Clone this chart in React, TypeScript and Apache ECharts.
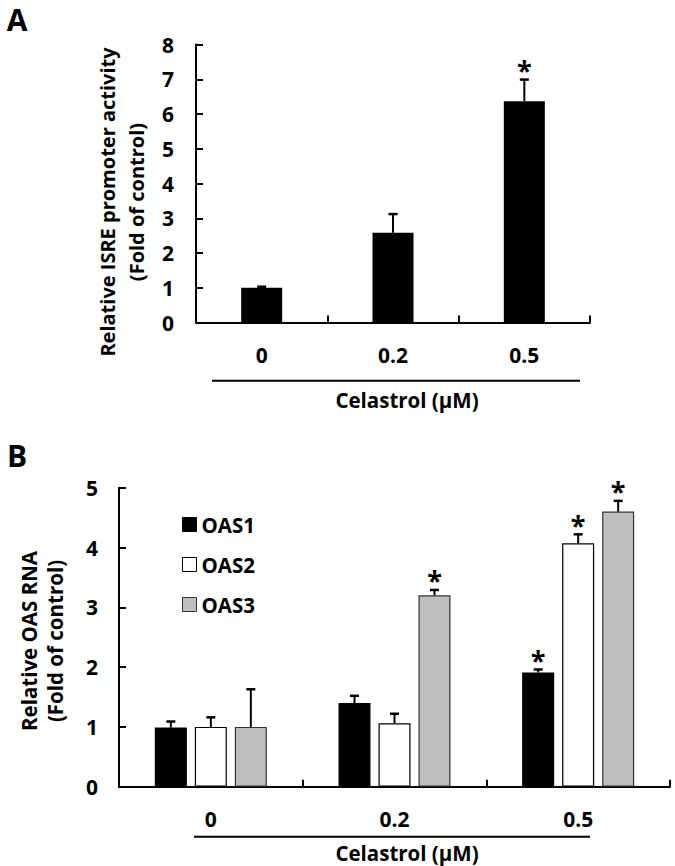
import React, { useEffect, useRef } from 'react';
import * as echarts from 'echarts';

// ---- Data ----
const doseLabels = ['0', '0.2', '0.5'];

// Panel A: relative ISRE promoter activity
const isreMean = [1.0, 2.58, 6.37];
const isreErr = [0.03, 0.54, 0.62];
const isreSig = [0, 0, 1];

// Panel B: relative OAS RNA
const oasNames = ['OAS1', 'OAS2', 'OAS3'];
const oas1Mean = [0.99, 1.4, 1.91];
const oas1Err = [0.1, 0.12, 0.05];
const oas1Sig = [0, 0, 1];
const oas2Mean = [1.0, 1.06, 4.07];
const oas2Err = [0.16, 0.16, 0.15];
const oas2Sig = [0, 0, 1];
const oas3Mean = [1.0, 3.2, 4.6];
const oas3Err = [0.63, 0.09, 0.18];
const oas3Sig = [0, 1, 1];

const FONT = '"Open Sans", "Noto Sans", sans-serif';

function errData(mean: number[], err: number[], sig: number[]) {
  return mean.map((m, i) => [i, m, err[i], sig[i]]);
}

function makeErrorRender(offsetPx: number) {
  return (params: any, api: any) => {
    const idx = api.value(0);
    const mean = api.value(1);
    const err = api.value(2);
    const sig = api.value(3);
    const base = api.coord([idx, mean]);
    const top = api.coord([idx, mean + err]);
    const x = base[0] + offsetPx;
    const children: any[] = [
      {
        type: 'line',
        shape: { x1: x, y1: base[1], x2: x, y2: top[1] },
        style: { stroke: '#000', lineWidth: 2 },
      },
      {
        type: 'line',
        shape: { x1: x - 4.5, y1: top[1], x2: x + 4.5, y2: top[1] },
        style: { stroke: '#000', lineWidth: 2.5 },
      },
    ];
    if (sig) {
      children.push({
        type: 'text',
        x: x,
        y: top[1] - 10,
        style: {
          text: '*',
          fontSize: 27,
          fontFamily: FONT,
          fontWeight: 'bold',
          fill: '#000',
          align: 'center',
          verticalAlign: 'middle',
          textAlign: 'center',
          textVerticalAlign: 'middle',
        },
      });
    }
    return { type: 'group', children };
  };
}

const axisCommonX = (gridIndex: number) => ({
  type: 'category' as const,
  gridIndex,
  data: doseLabels,
  axisLine: { show: true, lineStyle: { color: '#000', width: 2 } },
  axisTick: { show: true, inside: true, length: 7, alignWithLabel: false, lineStyle: { color: '#000', width: 2 } },
  axisLabel: { fontSize: 21, fontWeight: 'bold' as const, fontFamily: FONT, color: '#000', margin: 22 },
  splitLine: { show: false },
});

const axisCommonY = (gridIndex: number, max: number, margin: number) => ({
  type: 'value' as const,
  gridIndex,
  min: 0,
  max,
  interval: 1,
  axisLine: { show: true, lineStyle: { color: '#000', width: 2 } },
  axisTick: { show: true, inside: true, length: 7, lineStyle: { color: '#000', width: 2 } },
  axisLabel: { fontSize: 21, fontWeight: 'bold' as const, fontFamily: FONT, color: '#000', margin },
  splitLine: { show: false },
});

const textStyle = (text: string, size: number) => ({
  text,
  fontSize: size,
  fontWeight: 'bold',
  fontFamily: FONT,
  fill: '#000',
  align: 'center',
  verticalAlign: 'middle',
  textAlign: 'center',
  textVerticalAlign: 'middle',
});

export default function App() {
  const ref = useRef<HTMLDivElement>(null);
  useEffect(() => {
    if (!ref.current) return;
    const chart = echarts.init(ref.current, undefined, { renderer: 'svg' });
    const oasColors = ['#000000', '#ffffff', '#bfbfbf'];
    const oasBorders = ['#000000', '#000000', '#333333'];
    const oasMeans = [oas1Mean, oas2Mean, oas3Mean];
    const oasErrs = [oas1Err, oas2Err, oas3Err];
    const oasSigs = [oas1Sig, oas2Sig, oas3Sig];
    const offsets = [-40, 0, 40];

    const option: any = {
      animation: false,
      backgroundColor: '#ffffff',
      textStyle: { fontFamily: FONT },
      grid: [
        { left: 196, top: 44.5, width: 394, height: 278 },
        { left: 119, top: 487.7, width: 551, height: 299 },
      ],
      xAxis: [axisCommonX(0), axisCommonX(1)],
      yAxis: [axisCommonY(0, 8, 22), axisCommonY(1, 5, 21)],
      legend: {
        orient: 'vertical',
        left: 177,
        top: 509,
        itemWidth: 14,
        itemHeight: 14,
        itemGap: 19,
        icon: 'rect',
        selectedMode: false,
        textStyle: { fontSize: 20.5, fontWeight: 'bold', fontFamily: FONT, color: '#000', lineHeight: 20 },
        data: oasNames.map((n, i) => ({
          name: n,
          itemStyle: { color: oasColors[i], borderColor: oasBorders[i], borderWidth: 1 },
        })),
      },
      series: [
        {
          name: 'ISRE',
          type: 'bar',
          xAxisIndex: 0,
          yAxisIndex: 0,
          data: isreMean,
          barWidth: 41,
          itemStyle: { color: '#000' },
        },
        {
          name: 'ISRE err',
          type: 'custom',
          xAxisIndex: 0,
          yAxisIndex: 0,
          data: errData(isreMean, isreErr, isreSig),
          encode: { x: 0, y: 1 },
          renderItem: makeErrorRender(0),
          z: 5,
          clip: false,
        },
        ...oasNames.map((n, i) => ({
          name: n,
          type: 'bar',
          xAxisIndex: 1,
          yAxisIndex: 1,
          data: oasMeans[i],
          barWidth: 32,
          barGap: '25%',
          itemStyle: { color: oasColors[i], borderColor: oasBorders[i], borderWidth: 1.2 },
        })),
        ...oasNames.map((n, i) => ({
          name: n + ' err',
          type: 'custom',
          xAxisIndex: 1,
          yAxisIndex: 1,
          data: errData(oasMeans[i], oasErrs[i], oasSigs[i]),
          encode: { x: 0, y: 1 },
          renderItem: makeErrorRender(offsets[i]),
          z: 5,
          clip: false,
        })),
      ],
      graphic: [
        { type: 'text', x: 17, y: 19, style: textStyle('A', 30) },
        { type: 'text', x: 17, y: 455, style: textStyle('B', 30) },
        {
          type: 'text', x: 122, y: 202, rotation: Math.PI / 2,
          style: { ...textStyle('Relative ISRE promoter activity\n(Fold of control)', 20), lineHeight: 29 },
        },
        {
          type: 'text', x: 42, y: 641, rotation: Math.PI / 2,
          style: { ...textStyle('Relative OAS RNA\n(Fold of control)', 20.5), lineHeight: 26 },
        },
        { type: 'line', shape: { x1: 212, y1: 380.7, x2: 580, y2: 380.7 }, style: { stroke: '#000', lineWidth: 2 } },
        { type: 'text', x: 407, y: 400, style: textStyle('Celastrol (μM)', 20.5) },
        { type: 'line', shape: { x1: 194, y1: 836.7, x2: 590, y2: 836.7 }, style: { stroke: '#000', lineWidth: 2 } },
        { type: 'text', x: 407, y: 853, style: textStyle('Celastrol (μM)', 20.5) },
      ],
    };
    chart.setOption(option);
    return () => chart.dispose();
  }, []);
  return (
    <div
      ref={ref}
      style={{ position: 'absolute', left: 0, top: 0, width: 675, height: 866, background: '#fff' }}
    />
  );
}
